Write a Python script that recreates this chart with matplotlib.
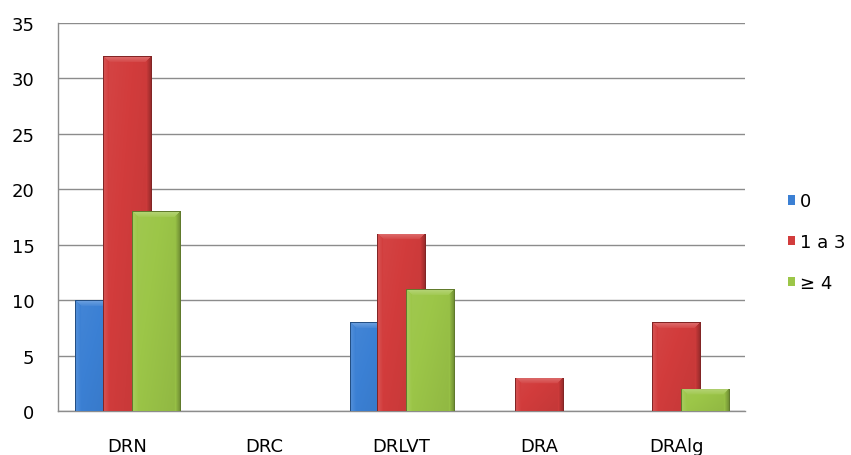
import numpy as np
import matplotlib
matplotlib.use("Agg")
import matplotlib.pyplot as plt

# values per region and per class
regions = ["DRN", "DRC", "DRLVT", "DRA", "DRAlg"]
series_names = ["0", "1 a 3", "\u2265 4"]
vals_0 = [10, 0, 8, 0, 0]
vals_1a3 = [32, 0, 16, 3, 8]
vals_4plus = [18, 0, 11, 0, 2]
yticks = [0, 5, 10, 15, 20, 25, 30, 35]

colors = ["#3b80d4", "#d23c3c", "#9cc648"]
all_vals = [vals_0, vals_1a3, vals_4plus]

plt.rcParams["font.family"] = ["DejaVu Sans"]

fig = plt.figure(figsize=(8.51, 4.56), dpi=100)
ax = fig.add_axes([58 / 851, 44 / 456, 687 / 851, 388 / 456])

width = 0.35
offsets = [-0.2, 0.0, 0.21]
x = np.arange(len(regions))


def bevel_image(col, wpx, hpx, b=6):
    # bar face with a soft bevel: light top/left, dark right edge
    nx, ny = max(int(round(wpx)), 2), max(int(round(hpx)), 2)
    X, Y = np.meshgrid(np.arange(nx) + 0.5, np.arange(ny) + 0.5)
    f = 1.0 + 0.05 * (1 - Y / ny) - 0.08 * (X / nx)
    dist = np.stack([X, nx - X, Y])
    side = np.argmin(dist, axis=0)
    m = np.min(dist, axis=0)
    t = np.clip(1 - m / b, 0, 1)  # 1 at the outer edge, 0 inside
    zone = m < b
    f = np.where(zone & (side == 0), 1.0 + 0.14 * t, f)
    f = np.where(zone & (side == 1), 1.0 - 0.32 * t, f)
    f = np.where(zone & (side == 2), 1.06 + 0.22 * t, f)
    f = np.where(m < 1, 0.62, f)
    rgb = np.array(matplotlib.colors.to_rgb(col))
    fl = np.clip(f - 1, 0, 1)[..., None]
    img = np.where((f >= 1)[..., None], rgb + (1 - rgb) * fl, rgb * f[..., None])
    return np.clip(img, 0, 1)


ax.set_xlim(-0.5, len(regions) - 0.5)
ax.set_ylim(0, 35)

px_per_x = 687 / len(regions)
px_per_y = 388 / 35

containers = []
for i, (vals, col, name) in enumerate(zip(all_vals, colors, series_names)):
    bars = ax.bar(x + offsets[i], vals, width, color=col, label=name,
                  zorder=3 + i, linewidth=0)
    containers.append(bars)
    for r in bars:
        h = r.get_height()
        if h <= 0:
            continue
        img = bevel_image(col, r.get_width() * px_per_x, h * px_per_y)
        im = ax.imshow(img, extent=(r.get_x(), r.get_x() + r.get_width(), 0, h),
                       aspect="auto", zorder=3 + i + 0.5, interpolation="bilinear")
        im.set_clip_path(r)

ax.set_xlim(-0.5, len(regions) - 0.5)
ax.set_ylim(0, 35)

ax.set_yticks(yticks)
ax.set_xticks(x)
ax.set_xticklabels(regions)
ax.tick_params(axis="both", length=0, labelsize=13)
ax.tick_params(axis="y", pad=17)
ax.tick_params(axis="x", pad=19)
ax.yaxis.grid(True, color="#8c8c8c", linewidth=1)
ax.set_axisbelow(True)
for s in ["top", "right"]:
    ax.spines[s].set_visible(False)
for s in ["left", "bottom"]:
    ax.spines[s].set_color("#8c8c8c")
    ax.spines[s].set_linewidth(1)

fig.legend(handles=containers, labels=series_names, loc="center left",
           bbox_to_anchor=(788 / 851, 1 - 243 / 456), frameon=False,
           fontsize=13, handlelength=0.4, handleheight=0.4, handletextpad=0.25,
           labelspacing=1.25, borderpad=0, borderaxespad=0)

fig.savefig("out.png", dpi=100)
